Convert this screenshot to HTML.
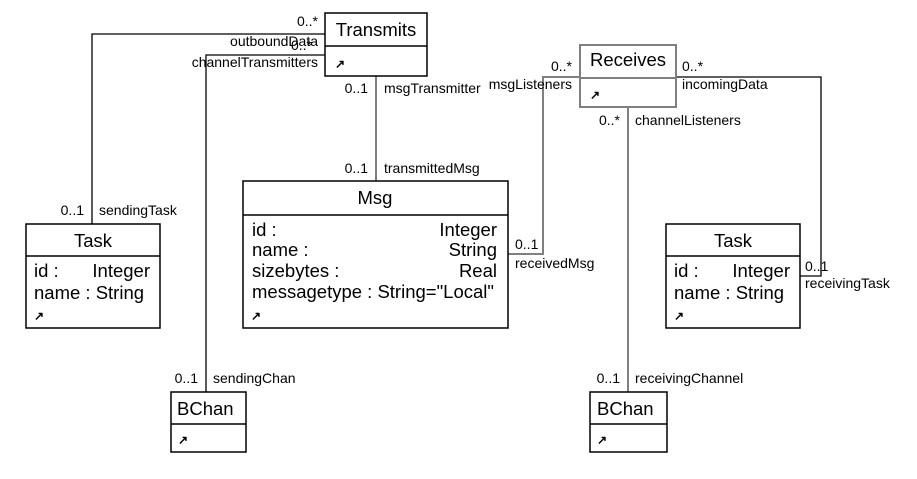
<!DOCTYPE html>
<html><head><meta charset="utf-8"><style>
html,body{margin:0;padding:0;background:#fff;}
svg{display:block;font-family:"Liberation Sans",Arial,sans-serif;}
.t{font-size:18.5px;fill:#000;}
.s{font-size:14px;fill:#000;}
</style></head><body>
<svg width="917" height="479" viewBox="0 0 917 479" xmlns="http://www.w3.org/2000/svg">
<g fill="none" stroke-width="1.3">
<polyline points="325,34 92,34 92,224" stroke="#000"/>
<polyline points="325,55 206,55 206,392" stroke="#000"/>
<line x1="376" y1="76" x2="376" y2="181" stroke="#808080" stroke-width="2"/>
<polyline points="580,77 543,77 543,254 508,254" stroke="#808080" stroke-width="2"/>
<polyline points="676,77 821,77 821,276 800,276" stroke="#000"/>
<line x1="628" y1="107" x2="628" y2="392" stroke="#808080" stroke-width="2"/>
</g>
<g fill="#fff" stroke-width="1.5">
<rect x="325" y="13" width="102" height="63" stroke="#000"/>
<line x1="325" y1="46" x2="427" y2="46" stroke="#000"/>
<rect x="580" y="45" width="96" height="62" stroke="#808080" stroke-width="2"/>
<line x1="580" y1="78" x2="676" y2="78" stroke="#808080" stroke-width="2"/>
<rect x="243" y="181" width="265" height="147" stroke="#000"/>
<line x1="243" y1="215" x2="508" y2="215" stroke="#000"/>
<rect x="26" y="224" width="134" height="104" stroke="#000"/>
<line x1="26" y1="256" x2="160" y2="256" stroke="#000"/>
<rect x="666" y="224" width="134" height="104" stroke="#000"/>
<line x1="666" y1="256" x2="800" y2="256" stroke="#000"/>
<rect x="171" y="392" width="75" height="60" stroke="#000"/>
<line x1="171" y1="424" x2="246" y2="424" stroke="#000"/>
<rect x="590" y="392" width="77" height="60" stroke="#000"/>
<line x1="590" y1="424" x2="667" y2="424" stroke="#000"/>
</g>
<text class="t" x="376" y="36" text-anchor="middle">Transmits</text>
<text class="t" x="628" y="66" text-anchor="middle">Receives</text>
<text class="t" x="375" y="204" text-anchor="middle">Msg</text>
<text class="t" x="93" y="247" text-anchor="middle">Task</text>
<text class="t" x="733" y="247" text-anchor="middle">Task</text>
<text class="t" x="177" y="415">BChan</text>
<text class="t" x="597" y="415">BChan</text>
<text class="t" x="252" y="236">id :</text><text class="t" x="497" y="236" text-anchor="end">Integer</text>
<text class="t" x="252" y="256">name :</text><text class="t" x="497" y="256" text-anchor="end">String</text>
<text class="t" x="252" y="277">sizebytes :</text><text class="t" x="497" y="277" text-anchor="end">Real</text>
<text class="t" x="252" y="298">messagetype : String="Local"</text>
<text class="t" x="34" y="277">id :</text><text class="t" x="150" y="277" text-anchor="end">Integer</text>
<text class="t" x="34" y="299">name : String</text>
<text class="t" x="674" y="277">id :</text><text class="t" x="790" y="277" text-anchor="end">Integer</text>
<text class="t" x="674" y="299">name : String</text>
<g font-size="12" font-weight="bold">
<text x="335" y="68">↗</text>
<text x="590" y="99">↗</text>
<text x="251" y="320">↗</text>
<text x="34" y="320">↗</text>
<text x="674" y="320">↗</text>
<text x="178" y="444">↗</text>
<text x="597" y="444">↗</text>
</g>
<text class="s" x="318" y="26" text-anchor="end">0..*</text>
<text class="s" x="318" y="46" text-anchor="end">outboundData</text>
<text class="s" x="312" y="50" text-anchor="end">0..*</text>
<text class="s" x="318" y="67" text-anchor="end">channelTransmitters</text>
<text class="s" x="368" y="93" text-anchor="end">0..1</text>
<text class="s" x="384" y="93">msgTransmitter</text>
<text class="s" x="368" y="173" text-anchor="end">0..1</text>
<text class="s" x="384" y="173">transmittedMsg</text>
<text class="s" x="84" y="215" text-anchor="end">0..1</text>
<text class="s" x="99" y="215">sendingTask</text>
<text class="s" x="572" y="71" text-anchor="end">0..*</text>
<text class="s" x="572" y="89" text-anchor="end">msgListeners</text>
<text class="s" x="682" y="71">0..*</text>
<text class="s" x="682" y="89">incomingData</text>
<text class="s" x="620" y="125" text-anchor="end">0..*</text>
<text class="s" x="635" y="125">channelListeners</text>
<text class="s" x="515" y="249">0..1</text>
<text class="s" x="515" y="268">receivedMsg</text>
<text class="s" x="805" y="271">0..1</text>
<text class="s" x="805" y="288">receivingTask</text>
<text class="s" x="198" y="383" text-anchor="end">0..1</text>
<text class="s" x="213" y="383">sendingChan</text>
<text class="s" x="620" y="383" text-anchor="end">0..1</text>
<text class="s" x="635" y="383">receivingChannel</text>
</svg>
</body></html>
